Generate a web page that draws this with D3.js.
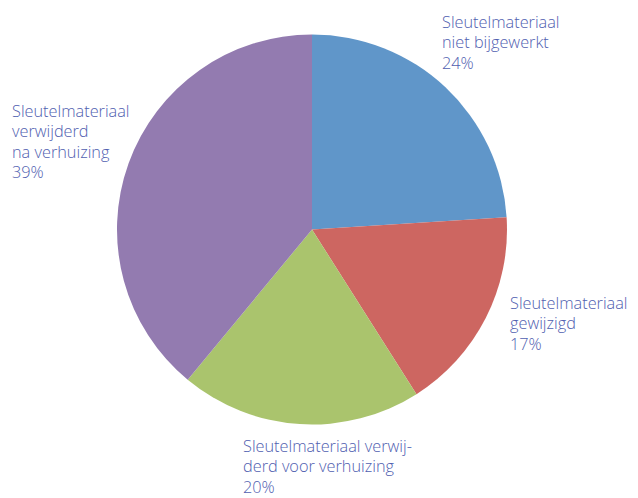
<!DOCTYPE html>
<html><head><meta charset="utf-8">
<script src="https://cdn.jsdelivr.net/npm/d3@7"></script>
<style>html,body{margin:0;padding:0;background:#fff;}</style>
</head><body>
<svg id="c" width="638" height="498"></svg>
<script>
const categories = [
  ["Sleutelmateriaal", "niet bijgewerkt"],
  ["Sleutelmateriaal", "gewijzigd"],
  ["Sleutelmateriaal verwij-", "derd voor verhuizing"],
  ["Sleutelmateriaal", "verwijderd", "na verhuizing"]
];
const values = [24, 17, 20, 39];
const colors = ["#6096c9", "#cd6661", "#aac46d", "#937bb0"];
const labelAnchors = [[442, 28], [510, 309], [243, 452], [12, 117]];

const svg = d3.select("#c");
const cx = 312, cy = 229.5, r = 195;
const pie = d3.pie().sort(null).value(d => d)(values);
const arc = d3.arc().innerRadius(0).outerRadius(r);
const g = svg.append("g").attr("transform", `translate(${cx},${cy})`);
g.selectAll("path").data(pie).join("path")
  .attr("d", arc).attr("fill", (d, i) => colors[i]);

const lh = 20.3;
categories.forEach((lines, i) => {
  const t = svg.append("text")
    .attr("x", labelAnchors[i][0]).attr("y", labelAnchors[i][1])
    .attr("fill", "#5060b0")
    .style("font-family", "'Open Sans', sans-serif")
    .style("font-weight", 300)
    .style("font-size", "16.3px");
  const all = lines.concat([values[i] + "%"]);
  all.forEach((s, k) => {
    t.append("tspan").attr("x", labelAnchors[i][0]).attr("y", labelAnchors[i][1] + k * lh).text(s);
  });
});
</script>
</body></html>
